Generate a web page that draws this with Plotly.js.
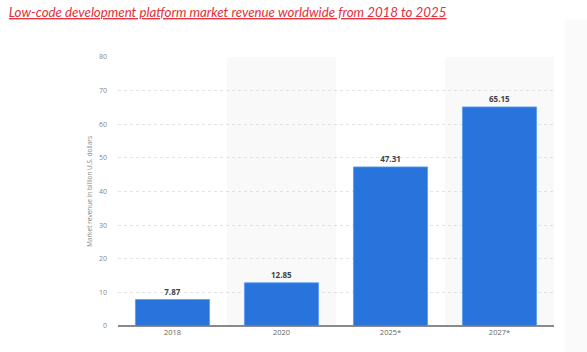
<!DOCTYPE html>
<html><head><meta charset="utf-8">
<script src="https://cdn.plot.ly/plotly-3.0.1.min.js"></script>
<style>html,body{margin:0;padding:0;background:#fff;}#chart{width:587px;height:352px;}</style>
</head><body><div id="chart"></div>
<script>
const categories = ["2018", "2020", "2025*", "2027*"];
const revenue = [7.87, 12.85, 47.31, 65.15];
const labels = ["7.87", "12.85", "47.31", "65.15"];
const yTicks = [0, 10, 20, 30, 40, 50, 60, 70, 80];

const shapes = [];
[1, 3].forEach(i => shapes.push({type:'rect', xref:'x', yref:'paper', x0:i-0.5, x1:i+0.5, y0:0, y1:1, fillcolor:'#f9f9f9', line:{width:0}, layer:'below'}));
shapes.push({type:'rect', xref:'paper', yref:'paper', x0:1.025, x1:1.08, y0:-0.12, y1:1.14, fillcolor:'rgba(0,0,0,0.02)', line:{width:0}, layer:'below'});

Plotly.newPlot('chart', [{
  type:'bar', x:categories, y:revenue, text:labels, textposition:'outside', cliponaxis:false,
  textfont:{family:'Open Sans, sans-serif', size:8, color:'#444', weight:'bold'},
  marker:{color:'#2874dc', line:{color:'#5b9cf0', width:0.8}}, hoverinfo:'none'
}], {
  width:587, height:352,
  margin:{l:118, r:33, t:57, b:26},
  paper_bgcolor:'#fff', plot_bgcolor:'rgba(0,0,0,0)',
  bargap:0.32,
  shapes:shapes,
  title:{text:'<i><u>Low-code development platform market revenue worldwide from 2018 to 2025</u></i>', x:0.015, xanchor:'left', y:0.978, yanchor:'top',
    font:{family:'Lato, sans-serif', size:13.3, color:'#e0323a'}},
  xaxis:{type:'category', tickfont:{family:'Open Sans, sans-serif', size:7.5, color:'#666'}, showgrid:false, ticks:'', showline:false, zeroline:false},
  yaxis:{range:[0,80], tickvals:yTicks, tickfont:{family:'Open Sans, sans-serif', size:7, color:'#888'},
    showgrid:true, gridcolor:'#d8d8d8', griddash:'dot', gridwidth:0.7, zeroline:true, zerolinecolor:'#8a8a8a', zerolinewidth:2,
    ticklen:0, ticks:'', ticklabelstandoff:10,
    title:{text:'Market revenue in billion U.S. dollars', font:{family:'Open Sans, sans-serif', size:6.5, color:'#888'}, standoff:5}},
  showlegend:false
}, {displayModeBar:false, staticPlot:true});
</script></body></html>
